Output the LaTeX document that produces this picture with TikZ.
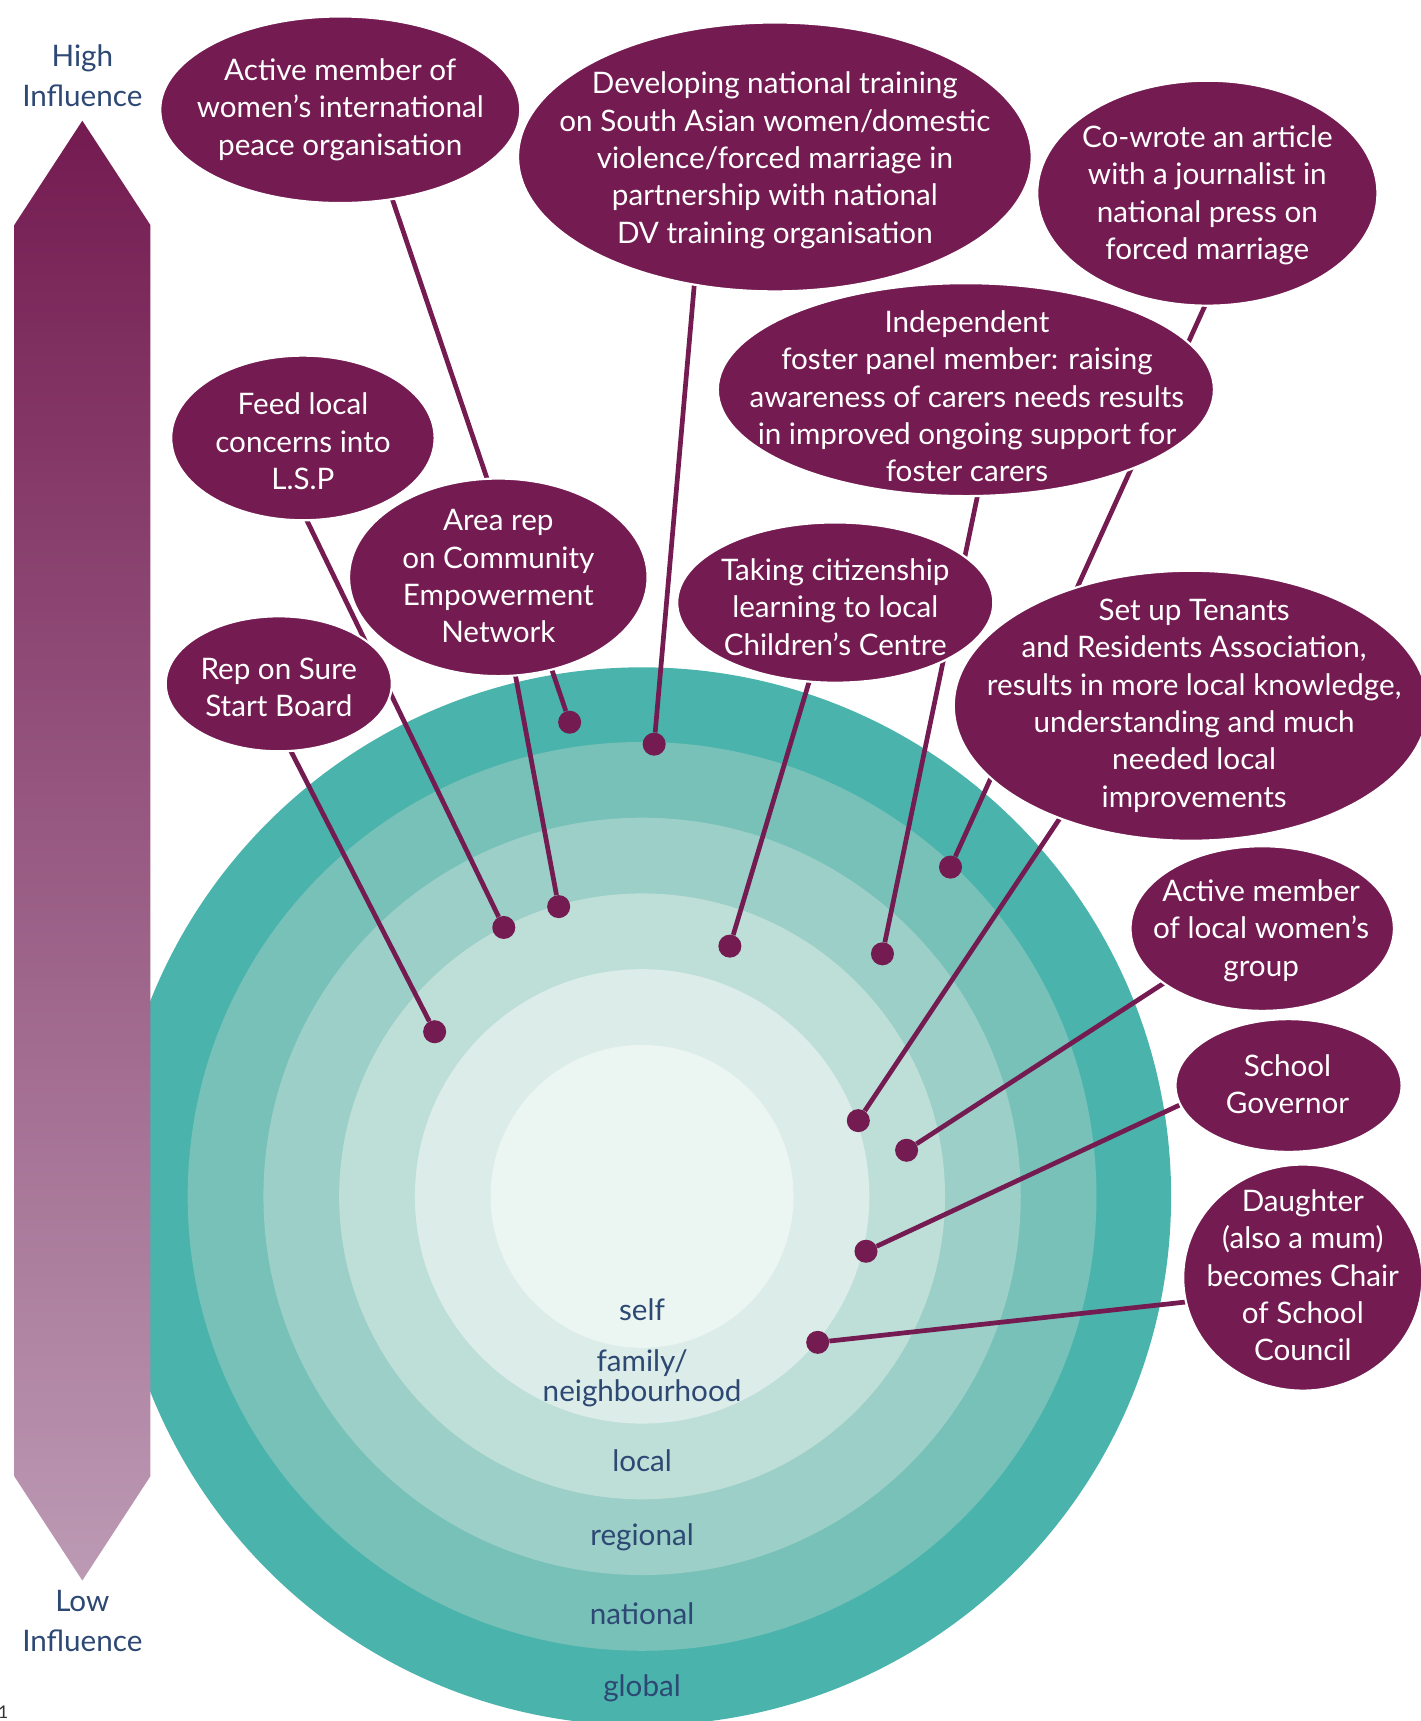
\documentclass[tikz,border=0pt]{standalone}
\usepackage{fontspec}
\setmainfont{Lato}
\usetikzlibrary{shapes.geometric}
\pgfdeclarelayer{bg}
\pgfdeclarelayer{lines}
\pgfsetlayers{bg,lines,main}
\definecolor{plum}{HTML}{741B51}
\definecolor{plummid}{HTML}{8D4C76}
\definecolor{plumlight}{HTML}{BC9AB4}
\definecolor{navy}{HTML}{2D4873}
\definecolor{ringA}{HTML}{4AB4AC}
\definecolor{ringB}{HTML}{78C1B9}
\definecolor{ringC}{HTML}{9CCFC7}
\definecolor{ringD}{HTML}{BEDFD8}
\definecolor{ringE}{HTML}{DCECE8}
\definecolor{ringF}{HTML}{EBF5F2}
\tikzset{
  bubble/.style={ellipse, fill=plum, draw=white, line width=2pt, inner sep=0pt},
  btext/.style={text=white, align=center, inner sep=0pt, font=\fontsize{27}{34}\selectfont},
  ringlabel/.style={text=navy, align=center, inner sep=0pt, font=\fontsize{27}{27}\selectfont},
  sidelabel/.style={text=navy, align=center, inner sep=0pt, font=\fontsize{27}{36}\selectfont},
  dotnode/.style={circle, fill=plum, minimum size=21pt, inner sep=0pt},
  conn/.style={draw=plum, line width=4.3pt}
}
\begin{document}
\begin{tikzpicture}[x=1pt,y=-1pt]
\useasboundingbox (0,0) rectangle (1294,1568);
% rings
\begin{pgfonlayer}{bg}
\fill[ringA] (585,1090) circle[radius=482pt];
\fill[ringB] (585,1090) circle[radius=414pt];
\fill[ringC] (585,1090) circle[radius=345pt];
\fill[ringD] (585,1090) circle[radius=276pt];
\fill[ringE] (585,1090) circle[radius=207pt];
\fill[ringF] (585,1090) circle[radius=138pt];
\end{pgfonlayer}
\node[ringlabel] (lself) at (585,1193) {self};
\node[ringlabel] (lfam) at (585,1256) {family/\\neighbourhood};
\node[ringlabel] (lloc) at (585,1331) {local};
\node[ringlabel] (lreg) at (585,1401) {regional};
\node[ringlabel] (lnat) at (585,1470) {national};
\node[ringlabel] (lglo) at (585,1538) {global};
% influence bar
\shade[top color=plum, middle color=plummid, bottom color=plumlight]
  (13,205) -- (75,110) -- (137,205) -- (137,1345) -- (75,1440) -- (13,1345) -- cycle;
\node[sidelabel] (high) at (75,69) {High\\Influence};
\node[sidelabel] (low) at (75,1477) {Low\\Influence};
\node[text=black!80, inner sep=0pt, font=\fontsize{16}{16}\selectfont] (pg) at (3,1560) {1};
% dots
\node[dotnode] (d1) at (519,658) {};
\node[dotnode] (d2) at (596,678) {};
\node[dotnode] (d3) at (866,790) {};
\node[dotnode] (d4) at (804,869) {};
\node[dotnode] (d5) at (459,845) {};
\node[dotnode] (d6) at (509,826) {};
\node[dotnode] (d7) at (665,862) {};
\node[dotnode] (d8) at (396,940) {};
\node[dotnode] (d9) at (782,1021) {};
\node[dotnode] (d10) at (826,1048) {};
\node[dotnode] (d11) at (789,1140) {};
\node[dotnode] (d12) at (745,1223) {};
% connector start points (inside bubbles)
\coordinate (s1) at (342,136);
\coordinate (s2) at (636,220);
\coordinate (s3) at (1118,234);
\coordinate (s4) at (893,440);
\coordinate (s5) at (265,444);
\coordinate (s6) at (463,580);
\coordinate (s7) at (745,595);
\coordinate (s8) at (250,655);
\coordinate (s9) at (986,715);
\coordinate (s10) at (1080,883);
\coordinate (s11) at (1100,995);
\coordinate (s12) at (1110,1183);
% bubbles
\node[bubble, minimum width=328pt, minimum height=170pt] (b1) at (310,100) {};
\node[btext] (t1) at (b1) {Active member of\\women’s international\\peace organisation};
\node[bubble, minimum width=468pt, minimum height=245pt] (b2) at (706,143) {};
\node[btext] (t2) at (706,146) {Developing national training\\on South Asian women/domestic\\violence/forced marriage in\\partnership with national\\DV training organisation};
\node[bubble, minimum width=310pt, minimum height=205pt] (b3) at (1100,176) {};
\node[btext] (t3) at (1100,178) {Co-wrote an article\\with a journalist in\\national press on\\forced marriage};
\node[bubble, minimum width=452pt, minimum height=194pt] (b4) at (880,355) {};
\node[btext] (t4) at (881,361) {Independent\\foster panel member: raising\\awareness of carers needs results\\in improved ongoing support for\\foster carers};
\node[bubble, minimum width=240pt, minimum height=150pt] (b5) at (276,399) {};
\node[btext] (t5) at (276,402) {Feed local\\concerns into\\L.S.P};
\node[bubble, minimum width=272pt, minimum height=180pt] (b6) at (454,526) {};
\node[btext] (t6) at (454,525) {Area rep\\on Community\\Empowerment\\Network};
\node[bubble, minimum width=206pt, minimum height=123pt] (b8) at (254,623) {};
\node[btext] (t8) at (254,626) {Rep on Sure\\Start Board};
\node[bubble, minimum width=432pt, minimum height=246pt] (b9) at (1085,643) {};
\node[btext] (t9) at (1088,643) {Set up Tenants\\and Residents Association,\\results in more local knowledge,\\understanding and much\\needed local\\improvements};
\node[bubble, minimum width=288pt, minimum height=146pt] (b7) at (761,549) {};
\node[btext] (t7) at (761,553) {Taking citizenship\\learning to local\\Children’s Centre};
\node[bubble, minimum width=240pt, minimum height=150pt] (b10) at (1150,846) {};
\node[btext] (t10) at (1149,848) {Active member\\of local women’s\\group};
\node[bubble, minimum width=206pt, minimum height=121pt] (b11) at (1174,989) {};
\node[btext] (t11) at (1173,988) {School\\Governor};
\node[bubble, minimum width=218pt, minimum height=206pt] (b12) at (1187,1164) {};
\node[btext] (t12) at (1187,1162) {Daughter\\(also a mum)\\becomes Chair\\of School\\Council};
% connectors
\begin{pgfonlayer}{lines}
\draw[conn] (s1) -- (d1);
\draw[conn] (s2) -- (d2);
\draw[conn] (s3) -- (d3);
\draw[conn] (s4) -- (d4);
\draw[conn] (s5) -- (d5);
\draw[conn] (s6) -- (d6);
\draw[conn] (s7) -- (d7);
\draw[conn] (s8) -- (d8);
\draw[conn] (s9) -- (d9);
\draw[conn] (s10) -- (d10);
\draw[conn] (s11) -- (d11);
\draw[conn] (s12) -- (d12);
\end{pgfonlayer}
\end{tikzpicture}
\end{document}
